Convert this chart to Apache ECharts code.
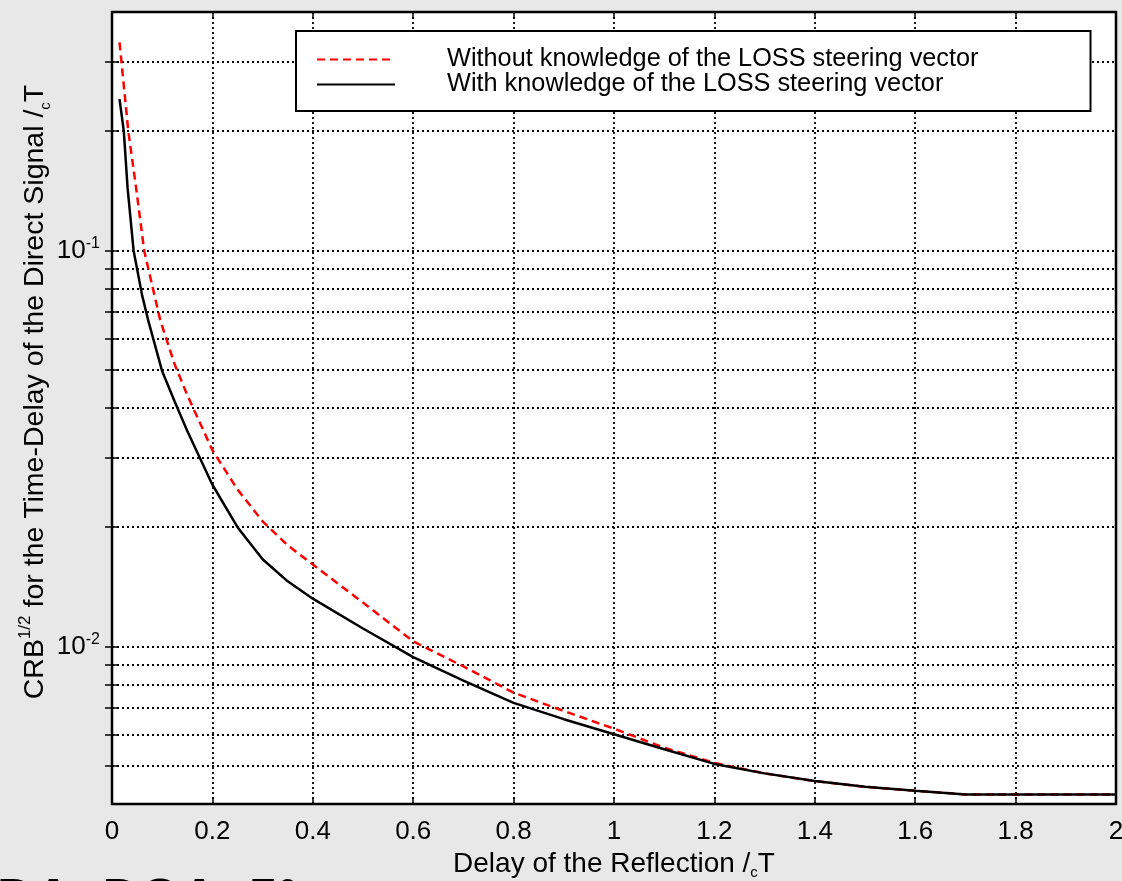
<!DOCTYPE html>
<html>
<head>
<meta charset="utf-8">
<title>CRB of the direct-signal time delay</title>
<script src="https://cdn.jsdelivr.net/npm/echarts@6/dist/echarts.min.js"></script>
<style>
  html, body { margin: 0; padding: 0; background: #e8e8e8; }
  #chart { width: 1122px; height: 881px; }
</style>
</head>
<body>
<div id="chart"></div>
<script>
// Delay of the reflection (in chip periods Tc) and the square-root CRB of the direct-signal delay
const delayWith = [0.015, 0.0235, 0.031, 0.043, 0.06, 0.072, 0.1, 0.125, 0.15, 0.2, 0.25, 0.3, 0.35, 0.4, 0.5, 0.6, 0.7, 0.8, 0.9, 1.0, 1.1, 1.2, 1.3, 1.4, 1.5, 1.6, 1.7, 1.8, 1.9, 2.0];
const crbWith = [0.241, 0.2, 0.144, 0.1, 0.077, 0.0667, 0.0495, 0.0415, 0.035, 0.0256, 0.0200, 0.0166, 0.0146, 0.0132, 0.0111, 0.0094, 0.0082, 0.0072, 0.00655, 0.0060, 0.0055, 0.00505, 0.00478, 0.00457, 0.00442, 0.00432, 0.00423, 0.00423, 0.00423, 0.00423];

const delayWithout = [0.015, 0.0325, 0.048, 0.064, 0.096, 0.125, 0.15, 0.2, 0.25, 0.3, 0.35, 0.4, 0.5, 0.6, 0.7, 0.8, 0.9, 1.0, 1.1, 1.2, 1.3, 1.4, 1.5, 1.6, 1.7, 1.8, 1.9, 2.0];
const crbWithout = [0.335, 0.2, 0.144, 0.1, 0.0667, 0.0515, 0.0431, 0.0313, 0.0249, 0.0207, 0.0180, 0.0161, 0.0129, 0.0103, 0.0089, 0.00764, 0.00687, 0.0062, 0.00555, 0.00508, 0.00478, 0.00457, 0.00442, 0.00432, 0.00423, 0.00423, 0.00423, 0.00423];

const seriesNames = ['Without knowledge of the LOSS steering vector', 'With knowledge of the LOSS steering vector'];

// log-scale range and grid lines (decade mantissas 2..9 plus the decades themselves)
const yMin = 0.004;
const yMax = 0.4;
const yGridValues = [0.005, 0.006, 0.007, 0.008, 0.009, 0.01, 0.02, 0.03, 0.04, 0.05, 0.06, 0.07, 0.08, 0.09, 0.1, 0.2, 0.3];
const yDecadeExponents = [-2, -1];

const FONT = '"Liberation Sans", Arial, Helvetica, sans-serif';
const lg = Math.log10;

const pairs = (xs, ys) => xs.map((x, i) => [x, lg(ys[i])]);

const gridDots = { color: '#000', width: 1.8, type: [2, 3] };

const chart = echarts.init(document.getElementById('chart'), null, { renderer: 'canvas' });

chart.setOption({
  backgroundColor: 'transparent',
  animation: false,
  textStyle: { fontFamily: FONT, color: '#000' },
  grid: {
    left: 112, right: 6, top: 12, bottom: 77,
    outerBoundsMode: 'none',
    containLabel: false,
    show: true, backgroundColor: '#fff', borderColor: '#000', borderWidth: 2.5
  },
  legend: {
    data: seriesNames,
    orient: 'vertical',
    left: 296, top: 31,
    padding: [16, 112, 14, 20],
    itemGap: 0,
    itemWidth: 78,
    itemHeight: 25,
    // only the line sample is shown, no marker
    itemStyle: { opacity: 0 },
    backgroundColor: '#fff',
    borderColor: '#000',
    borderWidth: 2,
    borderRadius: 0,
    textStyle: { fontFamily: FONT, fontSize: 25.3, lineHeight: 25, color: '#000', padding: [0, 0, 0, 47] }
  },
  xAxis: [{
    type: 'value', min: 0, max: 2, interval: 0.2, position: 'bottom',
    axisLine: { show: false },
    axisTick: { show: true, inside: true, length: 7, lineStyle: { color: '#000', width: 1.5 } },
    axisLabel: { fontFamily: FONT, fontSize: 26, color: '#000', margin: 15,
      formatter: v => String(+v.toFixed(1)) },
    splitLine: { show: true, lineStyle: gridDots },
    name: '{n|Delay of the Reflection /}{c|c}{n|T}',
    nameLocation: 'middle',
    nameGap: 38,
    nameTextStyle: {
      rich: {
        n: { fontFamily: FONT, fontSize: 28, lineHeight: 32, color: '#000' },
        c: { fontFamily: FONT, fontSize: 15, lineHeight: 15, color: '#000', verticalAlign: 'bottom' }
      }
    }
  }, {
    type: 'value', min: 0, max: 2, interval: 0.2, position: 'top',
    axisLine: { show: false },
    axisTick: { show: true, inside: true, length: 7, lineStyle: { color: '#000', width: 1.5 } },
    axisLabel: { show: false },
    splitLine: { show: false }
  }],
  yAxis: [{
    type: 'value', min: lg(yMin), max: lg(yMax), position: 'left',
    axisLine: { show: false },
    axisTick: { show: true, inside: true, length: 7, customValues: yGridValues.map(lg),
      lineStyle: { color: '#000', width: 1.5 } },
    axisLabel: {
      customValues: yDecadeExponents,
      margin: 12,
      formatter: v => '{b|10}{s|' + Math.round(v) + '}',
      rich: {
        b: { fontFamily: FONT, fontSize: 26, lineHeight: 30, color: '#000' },
        s: { fontFamily: FONT, fontSize: 16, lineHeight: 16, color: '#000', verticalAlign: 'top' }
      }
    },
    splitLine: { show: true, lineStyle: gridDots }
  }, {
    type: 'value', min: lg(yMin), max: lg(yMax), position: 'right',
    axisLine: { show: false },
    axisTick: { show: true, inside: true, length: 7, customValues: yGridValues.map(lg),
      lineStyle: { color: '#000', width: 1.5 } },
    axisLabel: { show: false },
    splitLine: { show: false }
  }],
  series: [{
    name: seriesNames[0],
    type: 'line',
    xAxisIndex: 0, yAxisIndex: 0,
    data: pairs(delayWithout, crbWithout),
    symbol: 'none',
    lineStyle: { color: '#ff0000', width: 2.5, type: [8, 5] },
    itemStyle: { color: '#ff0000' },
    z: 3
  }, {
    name: seriesNames[1],
    type: 'line',
    xAxisIndex: 0, yAxisIndex: 0,
    data: pairs(delayWith, crbWith),
    symbol: 'none',
    lineStyle: { color: '#000', width: 2.5, type: 'solid' },
    itemStyle: { color: '#000' },
    z: 4
  }],
  graphic: [{
    type: 'text',
    x: 35, y: 392,
    rotation: Math.PI / 2,
    style: {
      text: '{n|CRB}{s|1/2}{n| for the Time-Delay of the Direct Signal /}{c|c}{n|T}',
      align: 'center',
      verticalAlign: 'middle',
      fill: '#000',
      rich: {
        n: { fontFamily: FONT, fontSize: 28.5, lineHeight: 36, fill: '#000' },
        s: { fontFamily: FONT, fontSize: 17, lineHeight: 17, fill: '#000', verticalAlign: 'top' },
        c: { fontFamily: FONT, fontSize: 15, lineHeight: 15, fill: '#000', verticalAlign: 'bottom' }
      }
    }
  }, {
    type: 'text',
    x: -3, y: 875,
    style: {
      text: 'DA=DOA=5°',
      font: 'bold 52px ' + FONT,
      fill: '#000',
      verticalAlign: 'top'
    }
  }]
});
</script>
</body>
</html>
